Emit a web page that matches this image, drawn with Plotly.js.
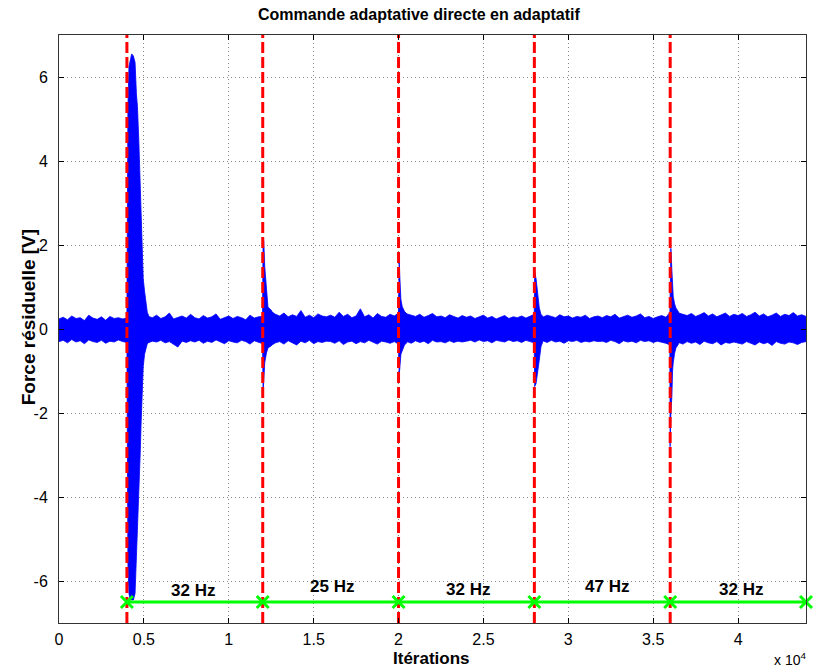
<!DOCTYPE html>
<html>
<head>
<meta charset="utf-8">
<script src="https://cdn.plot.ly/plotly-3.0.1.min.js"></script>
<style>html,body{margin:0;padding:0;background:#fff;}#chart{width:819px;height:671px;}</style>
</head>
<body>
<div id="chart"></div>
<script>
// Baseline noise envelope, sampled every 250 iterations (0 .. 44000)
const STEP = 250;
const baseUpper = [
 0.24,0.28,0.22,0.31,0.25,0.27,0.20,0.33,0.26,0.23,0.29,0.21,0.30,0.25,0.27,0.24,
 0.26,0.30,0.35,0.40,0.45,0.30,0.27,0.33,0.25,0.29,0.38,0.24,0.28,0.31,0.26,0.35,
 0.27,0.24,0.32,0.26,0.29,0.36,0.23,0.28,0.31,0.25,0.30,0.27,0.22,0.33,0.26,0.29,
 0.30,0.45,0.42,0.35,0.31,0.38,0.29,0.34,0.30,0.44,0.28,0.33,0.27,0.36,0.31,0.29,
 0.33,0.28,0.40,0.30,0.35,0.27,0.31,0.48,0.29,0.34,0.26,0.37,0.30,0.28,0.35,0.31,
 0.38,0.42,0.36,0.33,0.30,0.35,0.28,0.32,0.37,0.29,0.31,0.27,0.34,0.30,0.26,0.32,
 0.28,0.31,0.25,0.29,0.33,0.26,0.30,0.24,0.28,0.32,0.25,0.29,0.27,0.31,0.26,0.30,
 0.35,0.32,0.28,0.33,0.30,0.27,0.34,0.29,0.31,0.26,0.30,0.28,0.33,0.25,0.29,0.31,
 0.27,0.32,0.29,0.35,0.26,0.30,0.33,0.28,0.31,0.36,0.27,0.30,0.25,0.29,0.32,0.28,
 0.40,0.45,0.38,0.35,0.32,0.37,0.30,0.34,0.39,0.31,0.36,0.29,0.33,0.38,0.30,0.35,
 0.32,0.37,0.30,0.34,0.40,0.31,0.36,0.29,0.33,0.38,0.30,0.35,0.32,0.39,0.31,0.34,
 0.30
];
const baseLower = [
 -0.30,-0.27,-0.33,-0.25,-0.31,-0.28,-0.35,-0.26,-0.30,-0.32,-0.27,-0.34,-0.29,-0.31,-0.26,-0.30,
 -0.32,-0.35,-0.40,-0.45,-0.38,-0.33,-0.29,-0.31,-0.27,-0.33,-0.30,-0.36,-0.43,-0.29,-0.32,-0.28,
 -0.31,-0.27,-0.34,-0.29,-0.32,-0.26,-0.30,-0.35,-0.28,-0.31,-0.33,-0.27,-0.30,-0.36,-0.28,-0.31,
 -0.35,-0.45,-0.40,-0.33,-0.30,-0.36,-0.28,-0.32,-0.38,-0.29,-0.33,-0.27,-0.35,-0.30,-0.32,-0.29,
 -0.30,-0.34,-0.28,-0.37,-0.31,-0.29,-0.35,-0.30,-0.33,-0.27,-0.32,-0.36,-0.29,-0.31,-0.34,-0.30,
 -0.36,-0.33,-0.30,-0.34,-0.28,-0.32,-0.29,-0.35,-0.27,-0.31,-0.30,-0.33,-0.28,-0.32,-0.29,-0.31,
 -0.29,-0.27,-0.31,-0.26,-0.30,-0.28,-0.33,-0.27,-0.29,-0.31,-0.26,-0.30,-0.28,-0.32,-0.27,-0.30,
 -0.33,-0.30,-0.28,-0.32,-0.27,-0.31,-0.29,-0.34,-0.28,-0.30,-0.27,-0.32,-0.29,-0.31,-0.28,-0.30,
 -0.29,-0.32,-0.27,-0.30,-0.35,-0.28,-0.31,-0.29,-0.33,-0.27,-0.30,-0.28,-0.32,-0.29,-0.31,-0.34,
 -0.38,-0.35,-0.32,-0.36,-0.30,-0.34,-0.31,-0.37,-0.29,-0.33,-0.35,-0.30,-0.38,-0.32,-0.34,-0.31,
 -0.33,-0.36,-0.30,-0.34,-0.38,-0.31,-0.35,-0.32,-0.39,-0.30,-0.34,-0.36,-0.31,-0.33,-0.37,-0.32,
 -0.30
];

// Transients after each frequency change (iteration, upper envelope, lower envelope)
const spike1Iter  = [4000, 4060, 4120, 4200, 4280, 4380, 4480, 4560, 4620, 4700, 4780, 4840, 4900, 4960, 5040, 5120, 5200, 5300];
const spike1Upper = [0.30, 5.30, 6.25, 6.45, 6.55, 6.50, 6.35, 5.60, 5.30, 4.50, 3.30, 2.50, 1.50, 1.20, 0.90, 0.60, 0.40, 0.30];
const spike1Lower = [-0.30,-5.60,-6.30,-6.45,-6.45,-6.45,-6.30,-5.60,-4.80,-3.90,-3.00,-2.20,-1.40,-0.90,-0.60,-0.45,-0.35,-0.30];

const spike2Iter  = [11990, 12020, 12060, 12120, 12220, 12310, 12500, 12650];
const spike2Upper = [0.30, 2.14, 2.10, 1.48, 1.00, 0.52, 0.45, 0.30];
const spike2Lower = [-0.30,-1.52,-1.30,-0.80,-0.57,-0.45,-0.40,-0.30];

const spike3Iter  = [19990, 20040, 20080, 20140, 20220, 20350, 20500];
const spike3Upper = [0.30, 1.60, 1.20, 0.70, 0.53, 0.42, 0.35];
const spike3Lower = [-0.30,-1.10,-0.90,-0.60,-0.50,-0.38,-0.32];

const spike4Iter  = [27990, 28020, 28100, 28190, 28290, 28390, 28500];
const spike4Upper = [0.30, 1.36, 1.20, 0.85, 0.50, 0.35, 0.30];
const spike4Lower = [-0.30,-1.37,-1.30,-1.05,-0.74,-0.42,-0.30];

const spike5Iter  = [35980, 35995, 36040, 36100, 36140, 36180, 36260, 36340, 36500];
const spike5Upper = [0.35, 0.90, 1.92, 1.40, 1.00, 0.77, 0.60, 0.50, 0.40];
const spike5Lower = [-0.35,-2.80,-2.00,-1.60,-1.00,-0.80,-0.58,-0.45,-0.35];

// Frequency changes
const changeIter = [4000, 12000, 20000, 28000, 36000];
const segmentIter = [4000, 12000, 20000, 28000, 36000, 44000];
const segmentLevel = -6.5;
const freqLabels = ['32 Hz', '25 Hz', '32 Hz', '47 Hz', '32 Hz'];
const freqLabelIter = [7900, 16100, 24100, 32300, 40200];
const freqLabelY = [-6.22, -6.13, -6.2, -6.13, -6.2];

// Axis ticks
const xTickVals = [0, 5000, 10000, 15000, 20000, 25000, 30000, 35000, 40000];
const xTickText = ['0', '0.5', '1', '1.5', '2', '2.5', '3', '3.5', '4'];
const yTickVals = [-6, -4, -2, 0, 2, 4, 6];
const yTickText = ['-6', '-4', '-2', '0', '2', '4', '6'];

function band(iter, up, lo) {
  return {
    x: iter.concat(iter.slice().reverse()),
    y: up.concat(lo.slice().reverse())
  };
}

const FONT = 'Liberation Sans, Arial, sans-serif';
const baseIter = baseUpper.map((_, i) => i * STEP);
const traces = [];
const bands = [
  band(baseIter, baseUpper, baseLower),
  band(spike1Iter, spike1Upper, spike1Lower),
  band(spike2Iter, spike2Upper, spike2Lower),
  band(spike3Iter, spike3Upper, spike3Lower),
  band(spike4Iter, spike4Upper, spike4Lower),
  band(spike5Iter, spike5Upper, spike5Lower)
];
bands.forEach(b => traces.push({
  type: 'scatter', mode: 'lines', x: b.x, y: b.y,
  fill: 'toself', fillcolor: '#0000ff',
  line: {color: '#0000ff', width: 0.8},
  hoverinfo: 'skip', showlegend: false
}));

// red dashed change lines
const rx = [], ry = [];
changeIter.forEach(v => { rx.push(v, v, null); ry.push(-7, 7, null); });
traces.push({
  type: 'scatter', mode: 'lines', x: rx, y: ry,
  line: {color: '#ff0000', width: 3, dash: '11px,4px'},
  showlegend: false, hoverinfo: 'skip'
});

// green segment line with x markers
traces.push({
  type: 'scatter', mode: 'lines+markers',
  x: segmentIter, y: segmentIter.map(() => segmentLevel),
  line: {color: '#00ff00', width: 3},
  marker: {symbol: 'x-thin', size: 12, color: '#00ff00', line: {color: '#00ff00', width: 3}},
  cliponaxis: false, showlegend: false, hoverinfo: 'skip'
});

const annotations = freqLabels.map((t, i) => ({
  x: freqLabelIter[i], y: freqLabelY[i], xref: 'x', yref: 'y',
  text: '<b>' + t + '</b>', showarrow: false,
  font: {family: FONT, size: 17, color: '#000'},
  xanchor: 'center', yanchor: 'middle'
}));
annotations.push({
  x: 0.483, y: 1, xref: 'paper', yref: 'paper', yshift: 21,
  text: '<b>Commande adaptative directe en adaptatif</b>', showarrow: false,
  font: {family: FONT, size: 16, color: '#000'},
  xanchor: 'center', yanchor: 'middle'
});
annotations.push({
  x: 0, y: 0.52, xref: 'paper', yref: 'paper', xshift: -31,
  text: '<b>Force résiduelle [V]</b>', showarrow: false, textangle: -90,
  font: {family: FONT, size: 19, color: '#000'},
  xanchor: 'center', yanchor: 'middle'
});
annotations.push({
  x: 0.498, y: 0, xref: 'paper', yref: 'paper', yshift: -35,
  text: '<b>Itérations</b>', showarrow: false,
  font: {family: FONT, size: 17, color: '#000'},
  xanchor: 'center', yanchor: 'middle'
});
annotations.push({
  x: 1, y: 0, xref: 'paper', yref: 'paper', yshift: -36, xshift: 2,
  text: 'x 10<sup>4</sup>', showarrow: false,
  font: {family: FONT, size: 14, color: '#000'},
  xanchor: 'right', yanchor: 'middle'
});

const axisCommon = {
  ticks: 'inside', ticklen: 5, tickcolor: '#000', mirror: 'ticks',
  showline: true, linecolor: '#333', linewidth: 1,
  showgrid: true, gridcolor: '#888', griddash: '1px,3px', gridwidth: 1,
  zeroline: false, tickfont: {size: 16, family: FONT, color: '#000'}
};

const layout = {
  width: 819, height: 671,
  margin: {l: 59, r: 13, t: 35, b: 48},
  paper_bgcolor: '#ffffff', plot_bgcolor: '#ffffff',
  showlegend: false,
  font: {family: FONT, size: 16, color: '#000'},
  xaxis: Object.assign({}, axisCommon, {
    range: [0, 44000], tickvals: xTickVals, ticktext: xTickText, ticklabelstandoff: 2
  }),
  yaxis: Object.assign({}, axisCommon, {
    range: [-7, 7], tickvals: yTickVals, ticktext: yTickText, ticklabelstandoff: 7
  }),
  annotations: annotations
};

Plotly.newPlot('chart', traces, layout, {staticPlot: true, displayModeBar: false});
</script>
</body>
</html>
